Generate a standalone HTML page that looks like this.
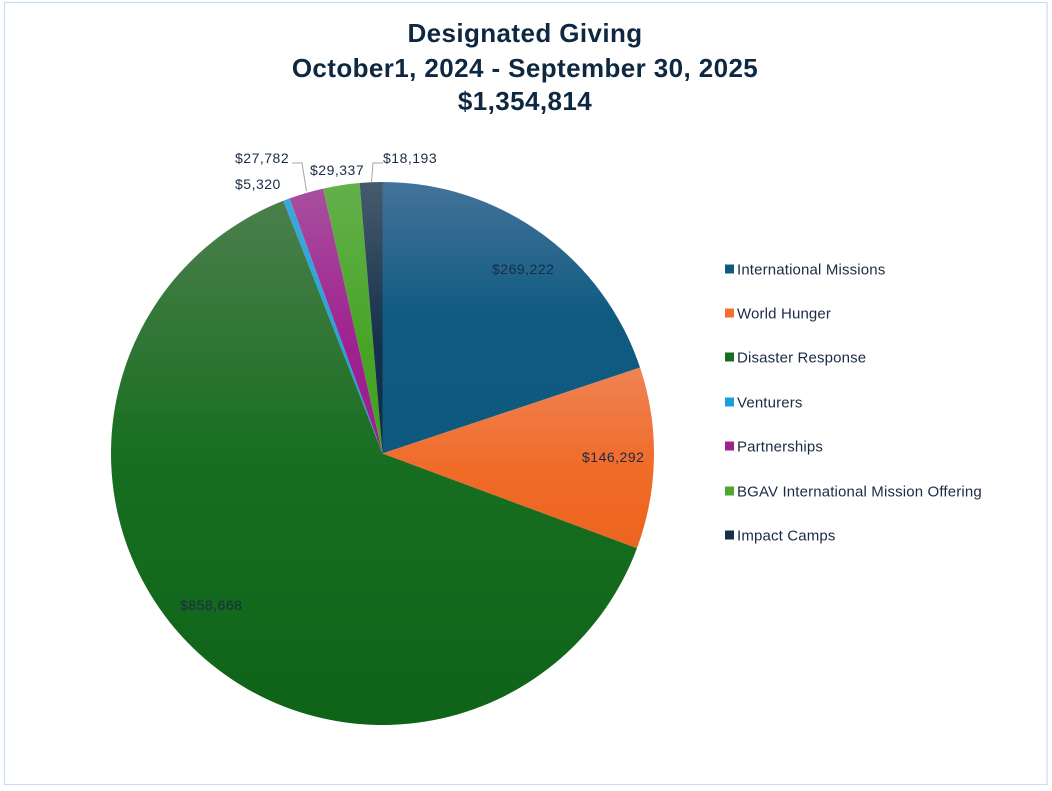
<!DOCTYPE html>
<html>
<head>
<meta charset="utf-8">
<style>
html,body{margin:0;padding:0;background:#fff;}
body{width:1052px;height:791px;overflow:hidden;}
svg{display:block;}
text{font-family:"Liberation Sans",sans-serif;}
</style>
</head>
<body>
<svg width="1052" height="791" viewBox="0 0 1052 791" xmlns="http://www.w3.org/2000/svg">
<defs>
<linearGradient id="gIM" x1="0" y1="0" x2="0" y2="1">
<stop offset="0" stop-color="#44739a"/><stop offset="0.5" stop-color="#0f5b80"/><stop offset="1" stop-color="#0e5a7f"/>
</linearGradient>
<linearGradient id="gWH" x1="0" y1="0" x2="0" y2="1">
<stop offset="0" stop-color="#ee8454"/><stop offset="0.55" stop-color="#f16b29"/><stop offset="1" stop-color="#ec6520"/>
</linearGradient>
<linearGradient id="gDR" x1="0" y1="0" x2="0" y2="1">
<stop offset="0" stop-color="#4b7f4c"/><stop offset="0.5" stop-color="#176e20"/><stop offset="1" stop-color="#0e6318"/>
</linearGradient>
<linearGradient id="gV" x1="0" y1="0" x2="0" y2="1">
<stop offset="0" stop-color="#3aa8dc"/><stop offset="1" stop-color="#1a9fd8"/>
</linearGradient>
<linearGradient id="gP" x1="0" y1="0" x2="0" y2="1">
<stop offset="0" stop-color="#a84f9e"/><stop offset="0.6" stop-color="#9f2190"/><stop offset="1" stop-color="#9d1e8e"/>
</linearGradient>
<linearGradient id="gB" x1="0" y1="0" x2="0" y2="1">
<stop offset="0" stop-color="#64b04c"/><stop offset="0.6" stop-color="#47a526"/><stop offset="1" stop-color="#45a324"/>
</linearGradient>
<linearGradient id="gIC" x1="0" y1="0" x2="0" y2="1">
<stop offset="0" stop-color="#465b6d"/><stop offset="0.6" stop-color="#15304a"/><stop offset="1" stop-color="#132d46"/>
</linearGradient>
</defs>

<rect x="4.5" y="2.5" width="1042.5" height="782" fill="#fff" stroke="#c8dcf4" stroke-width="1.2"/>

<!-- Title -->
<g fill="#0e2841" font-weight="bold" font-size="26" text-anchor="middle" letter-spacing="0.4">
<text x="525" y="42">Designated Giving</text>
<text x="525" y="77">October1, 2024 - September 30, 2025</text>
<text x="525" y="110">$1,354,814</text>
</g>

<!-- Pie -->
<g>
<path d="M382.5,453.5 L382.5,182 A271.5,271.5 0 0 1 640.03,367.53 Z" fill="url(#gIM)"/>
<path d="M382.5,453.5 L640.03,367.53 A271.5,271.5 0 0 1 636.95,548.18 Z" fill="url(#gWH)"/>
<path d="M382.5,453.5 L636.95,548.18 A271.5,271.5 0 1 1 283.31,200.77 Z" fill="url(#gDR)"/>
<path d="M382.5,453.5 L283.31,200.77 A271.5,271.5 0 0 1 289.55,198.41 Z" fill="url(#gV)"/>
<path d="M382.5,453.5 L289.55,198.41 A271.5,271.5 0 0 1 323.14,188.57 Z" fill="url(#gP)"/>
<path d="M382.5,453.5 L323.14,188.57 A271.5,271.5 0 0 1 359.59,182.97 Z" fill="url(#gB)"/>
<path d="M382.5,453.5 L359.59,182.97 A271.5,271.5 0 0 1 382.5,182 Z" fill="url(#gIC)"/>
</g>

<!-- Leader lines -->
<g stroke="#a6a6a6" stroke-width="1" fill="none">
<polyline points="292,163 302,163 306.5,191"/>
<polyline points="383,163 373,163 371.5,182"/>
</g>

<!-- Data labels -->
<g fill="#1a2b45" font-size="14" letter-spacing="0.5">
<text x="492" y="274">$269,222</text>
<text x="582" y="462">$146,292</text>
<text x="180" y="610">$858,668</text>
<text x="235" y="163">$27,782</text>
<text x="235" y="189">$5,320</text>
<text x="310" y="175">$29,337</text>
<text x="383" y="163">$18,193</text>
</g>

<!-- Legend -->
<g>
<rect x="725" y="264.5" width="9" height="9" fill="#0f5b80"/>
<rect x="725" y="308.5" width="9" height="9" fill="#f0702e"/>
<rect x="725" y="352.5" width="9" height="9" fill="#176e20"/>
<rect x="725" y="397.5" width="9" height="9" fill="#1a9fd8"/>
<rect x="725" y="441.5" width="9" height="9" fill="#9f2190"/>
<rect x="725" y="486.5" width="9" height="9" fill="#4ea72e"/>
<rect x="725" y="530.5" width="9" height="9" fill="#15304a"/>
</g>
<g fill="#1a2b45" font-size="15" letter-spacing="0.15">
<text x="737" y="274.5">International Missions</text>
<text x="737" y="318.5">World Hunger</text>
<text x="737" y="362.5">Disaster Response</text>
<text x="737" y="407.5">Venturers</text>
<text x="737" y="451.5">Partnerships</text>
<text x="737" y="496.5">BGAV International Mission Offering</text>
<text x="737" y="540.5">Impact Camps</text>
</g>
</svg>
</body>
</html>
